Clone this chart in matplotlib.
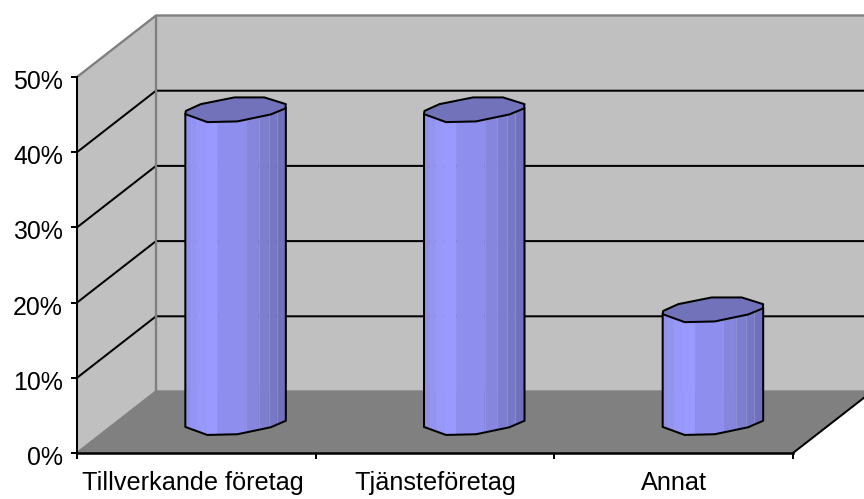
import numpy as np
import matplotlib
matplotlib.use("Agg")
import matplotlib.pyplot as plt
from matplotlib.patches import Polygon
from matplotlib.transforms import ScaledTranslation

categories = ["Tillverkande företag", "Tjänsteföretag", "Annat"]
values = [41.6, 41.6, 15.0]
y_ticks = [0, 10, 20, 30, 40, 50]
y_labels = ["0%", "10%", "20%", "30%", "40%", "50%"]

W, H = 864, 499
X0, Y0 = 77, 453          # pixel position of the front origin
CAT_W = 238.67            # pixels per category
PCT_H = 7.52              # pixels per percentage point
DEPTH_X, DEPTH_Y = 79, 61.5  # pixel offset from front plane to back wall
LINE = 1.45

plt.rcParams["font.family"] = ["Liberation Sans", "DejaVu Sans"]
fig = plt.figure(figsize=(W / 100, H / 100), dpi=100, facecolor="white")
ax = fig.add_axes([X0 / W, (H - Y0) / H, (W - X0) / W, Y0 / H])
ax.set_xlim(0, (W - X0) / CAT_W)
ax.set_ylim(0, Y0 / PCT_H)
ax.patch.set_alpha(0)

dx = DEPTH_X / CAT_W
dy = DEPTH_Y / PCT_H
n = len(categories)
top = y_ticks[-1]
far_right = n + dx

# Walls and floor
ax.add_patch(Polygon([(0, 0), (dx, dy), (dx, top + dy), (0, top)], fc="#C0C0C0", ec="none", zorder=1))
ax.add_patch(Polygon([(dx, dy), (far_right, dy), (far_right, top + dy), (dx, top + dy)], fc="#C0C0C0", ec="none", zorder=1))
ax.add_patch(Polygon([(0, 0), (n, 0), (far_right, dy), (dx, dy)], fc="#808080", ec="none", zorder=1))

# Gridlines wrap from the side wall onto the back wall
for t in y_ticks[1:-1]:
    ax.plot([0, dx, far_right], [t, t + dy, t + dy], color="black", lw=LINE, zorder=2, clip_on=False)

# Wall edges
grey = "#808080"
edge = dict(color=grey, lw=1.7, zorder=2, clip_on=False, solid_capstyle="round")
ax.plot([0, dx, far_right], [top, top + dy, top + dy], **edge)
ax.plot([dx, dx], [dy, top + dy], **edge)
ax.plot([0, dx, far_right], [0, dy, dy], **edge)
ax.plot([n, far_right], [0, dy], color="black", lw=LINE, zorder=2, clip_on=False)

# Octagonal cylinder outline, pixel offsets from the centre of a cap
cap = np.array([(-50.5, 4.7), (-50, 1.5), (-35, -5.3), (-1.5, -12), (28.5, -12), (50, -5.3),
                (49.5, -1), (35, 5), (1.5, 12), (-28.5, 12.7)])
front_x = np.array([-50.5, -28.5, 1.5, 35, 50])
front_y = np.array([4.7, 12.7, 12, 5, -1.5])
strip_edges = np.array([-50.5, -44.8, -39, -29.8, -18, 10.2, 22.8, 32.8, 40.8, 50])
strip_colors = ["#9090F0", "#9393F6", "#9797FC", "#9999FF", "#8E8EEE", "#8686DE",
                "#7E7ED0", "#7777C6", "#7070BC"]
seam_edges = [-44.8, -39, 10.2, 22.8, 32.8, 40.8]
seam_color = "#9C9CDC"


def to_data(px, py, cx, cy):
    """Pixel offsets around a data-space centre, y pointing down."""
    return np.column_stack([cx + np.asarray(px) / CAT_W, cy - np.asarray(py) / PCT_H])


for i, v in enumerate(values):
    cx = i + 0.5 + dx / 2
    base = dy / 2
    head = base + v
    for j, color in enumerate(strip_colors):
        xs = np.array([strip_edges[j], strip_edges[j + 1]])
        ys = np.interp(xs, front_x, front_y)
        low = to_data(xs, ys, cx, base)
        high = to_data(xs, ys, cx, head)
        ax.add_patch(Polygon(np.vstack([low, high[::-1]]), fc=color, ec=color, lw=0.3, zorder=3))
    # Faint lighter seams between the facets
    for s in seam_edges:
        sy = np.interp(s, front_x, front_y)
        seg = np.vstack([to_data([s], [sy], cx, base), to_data([s], [sy], cx, head)])
        ax.plot(seg[:, 0], seg[:, 1], color=seam_color, lw=0.6, alpha=0.7, zorder=3.5)
    # Silhouette: both sides and the lower rim
    rim = to_data(front_x, front_y, cx, base)
    left = to_data([front_x[0]], [front_y[0]], cx, head)
    right = to_data([front_x[-1]], [-1.5], cx, head)
    outline = np.vstack([left, rim, right])
    ax.plot(outline[:, 0], outline[:, 1], color="black", lw=LINE, zorder=4, solid_joinstyle="round")
    ax.add_patch(Polygon(to_data(cap[:, 0], cap[:, 1], cx, head), fc="#7272BB", ec="black",
                         lw=LINE, zorder=5, joinstyle="round"))

# Axes
for side in ("top", "right"):
    ax.spines[side].set_visible(False)
ax.spines["left"].set_bounds(0, top)
ax.spines["bottom"].set_bounds(0, n)
ax.spines["left"].set_linewidth(LINE)
ax.spines["bottom"].set_linewidth(1.8)
ax.spines["left"].set_zorder(6)
ax.spines["bottom"].set_zorder(6)

ax.set_yticks(y_ticks, y_labels)
ax.tick_params(axis="y", length=4.2, width=LINE, pad=6, labelsize=17.9, colors="black")
ax.set_xticks(np.arange(n + 1))
ax.set_xticklabels([])
ax.tick_params(axis="x", which="major", length=4.2, width=LINE)
ax.set_xticks(np.arange(n) + 0.5, categories, minor=True)
ax.tick_params(axis="x", which="minor", length=0, pad=13, labelsize=18.2)

# The value labels sit slightly below their tick marks
shift = ScaledTranslation(0, -2.5 / 100, fig.dpi_scale_trans)
for label in ax.get_yticklabels():
    label.set_transform(label.get_transform() + shift)

# The first category label starts a little further left than its centre implies
first = ax.get_xticklabels(minor=True)[0]
first.set_transform(first.get_transform() + ScaledTranslation(-3.5 / 100, 0, fig.dpi_scale_trans))

fig.savefig("out.png", dpi=100, facecolor="white")
